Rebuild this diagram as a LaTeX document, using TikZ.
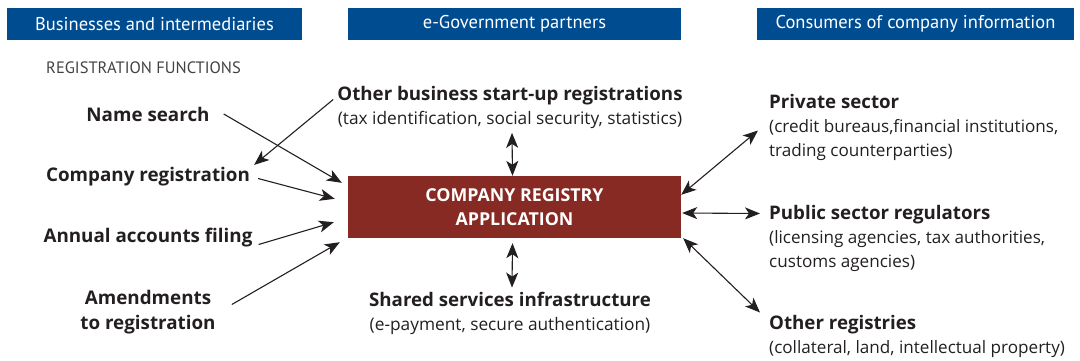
\documentclass[tikz,border=0pt]{standalone}
\usepackage{fontspec}
\setmainfont{Open Sans}
\newfontfamily\narrowfont{PT Sans}
\usepackage{xcolor}
\usetikzlibrary{arrows.meta, calc, positioning}
\definecolor{headblue}{RGB}{0,76,145}
\definecolor{registryred}{RGB}{134,42,35}
\definecolor{ink}{RGB}{35,31,32}
\tikzset{>={Stealth[length=15pt, width=12pt, inset=4pt]}}
\tikzset{
  headbar/.style={fill=headblue, text=white, minimum height=32pt, inner sep=0pt,
    font=\narrowfont\fontsize{18.5}{20}\selectfont},
  regfunc/.style={text=ink, align=center, inner sep=0pt,
    font=\fontsize{18.8}{25}\selectfont\bfseries},
  partner/.style={text=ink, align=center, inner sep=0pt,
    font=\fontsize{17.3}{24}\selectfont},
  consumer/.style={text=ink, align=left, anchor=west, inner sep=0pt,
    font=\fontsize{17.1}{24}\selectfont},
  link/.style={ink, line width=1.1pt},
}
\newcommand{\head}[1]{\textbf{\fontsize{18.7}{24}\selectfont #1}}

\begin{document}
\begin{tikzpicture}[x=1pt, y=-1pt]
  \useasboundingbox (0, 0) rectangle (1080, 360);

  % column heads
  \node[headbar, minimum width=295pt] (headbiz) at (154.5, 24) {Businesses and intermediaries};
  \node[headbar, minimum width=333pt] (headgov) at (514.5, 24) {e-Government partners};
  \node[headbar, minimum width=317pt] (headcons) at (915.5, 24) {Consumers of company information};

  % registration functions
  \node[anchor=west, inner sep=0pt, text=ink!85, font=\narrowfont\fontsize{16.5}{18}\selectfont] (regtitle) at (46, 68) {REGISTRATION FUNCTIONS};
  \node[regfunc] (namesearch) at (148, 114) {Name search};
  \node[regfunc] (compreg) at (148, 176.5) {Company registration};
  \node[regfunc] (annual) at (148, 237.5) {Annual accounts filing};
  \node[regfunc] (amend) at (148, 312.5) {Amendments\\to registration};

  % registry
  \node[fill=registryred, text=white, minimum width=333pt, minimum height=62pt, align=center,
    font=\fontsize{17.8}{24}\selectfont\bfseries] (registry) at (514.5, 207) {COMPANY REGISTRY\\APPLICATION};

  % e-government partners
  \node[partner] (startup) at (510, 107.5) {\head{Other business start-up registrations}\\(tax identification, social security, statistics)};
  \node[partner] (shared) at (510, 313) {\head{Shared services infrastructure}\\(e-payment, secure authentication)};

  % consumers
  \node[consumer] (private) at (769, 127.5) {\head{Private sector}\\(credit bureaus,financial institutions,\\trading counterparties)};
  \node[consumer] (public) at (769, 238.5) {\head{Public sector regulators}\\(licensing agencies, tax authorities,\\customs agencies)};
  \node[consumer] (otherreg) at (769, 336) {\head{Other registries}\\(collateral, land, intellectual property)};

  % arrows in
  \draw[link, ->] ($(namesearch.east)+(14, 0)$) -- ($(registry.north west)+(-6, 7)$);
  \draw[link, ->] ($(compreg.east)+(8, 2)$) -- ($(registry.north west)+(-13, 23)$);
  \draw[link, ->] ($(annual.east)+(6, 7)$) -- ($(registry.south west)+(-14, -16)$);
  \draw[link, ->] ($(amend.east)+(16, -8)$) -- ($(registry.south west)+(-8, 4)$);
  \draw[link, ->] ($(startup.west)+(-4, -8)$) -- ($(compreg.north east)+(4, -2)$);

  % arrows both ways
  \draw[link, <->] ($(startup.south)+(2, 4)$) -- ($(registry.north)+(-2, 0)$);
  \draw[link, <->] ($(registry.south)+(-2, 5)$) -- ($(shared.north)+(2, -4)$);
  \draw[link, <->] ($(registry.north east)+(0, 19)$) -- ($(private.west)+(-11, 3)$);
  \draw[link, <->] ($(registry.east)+(1, 6)$) -- ($(public.west)+(-9, -25)$);
  \draw[link, <->] ($(registry.south east)+(2, 0)$) -- ($(otherreg.west)+(-9, -23.5)$);
\end{tikzpicture}
\end{document}
